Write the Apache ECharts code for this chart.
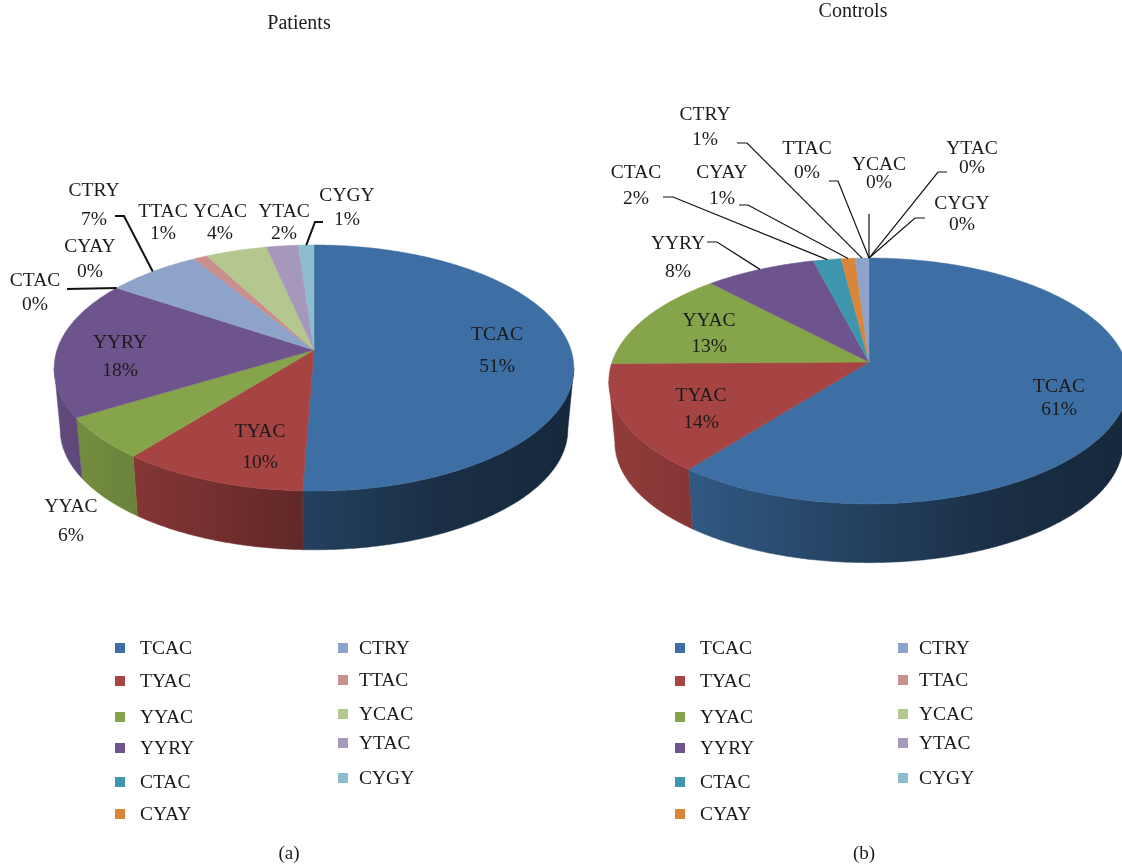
<!DOCTYPE html>
<html>
<head>
<meta charset="utf-8">
<style>
    html, body { margin: 0; padding: 0; background: #fff; }
    #main { width: 1122px; height: 865px; }
</style>
</head>
<body>
<div id="main"></div>
<script src="https://cdn.jsdelivr.net/npm/echarts@6/dist/echarts.min.js"></script>
<script>
// 数据
const categories = ['TCAC', 'TYAC', 'YYAC', 'YYRY', 'CTAC', 'CYAY', 'CTRY', 'TTAC', 'YCAC', 'YTAC', 'CYGY'];
const patientValues = [50.6, 10.1, 5.6, 18.1, 0, 0, 6.8, 1, 4.4, 2.3, 1.1];
const controlValues = [60.6, 14.2, 13.2, 8, 2, 1, 1, 0, 0, 0, 0];
const colors = ['#3d6fa4', '#a54442', '#86a44a', '#6e548d', '#3d96ae', '#d98639', '#8ea3c9', '#c98f8d', '#b3c78f', '#a698bb', '#8dbccd'];

// 饼图的透视参数
const patientPie = { cx: 314, cy: 350, rx: 257, ry: 120.4, k: 0.1464, shrink: 0.977, drop: 62 };
const controlPie = { cx: 869, cy: 362, rx: 257, ry: 120, k: 0.1544, shrink: 0.977, drop: 62 };

// 标签位置 [x, 名称y, 百分比y]
const patientLabelPos = [[497, 333, 365], [260, 430, 461], [71, 505, 534], [120, 341, 369], [35, 279, 303], [90, 245, 270],
    [94, 189, 218], [163, 210, 232], [220, 210, 232], [284, 210, 232], [347, 194, 218]];
const controlLabelPos = [[1059, 385, 408], [701, 394, 421], [709, 319, 345], [678, 242, 270], [636, 171, 197], [722, 171, 197],
    [705, 113, 138], [807, 147, 171], [879, 163, 181], [972, 147, 166], [962, 202, 223]];

// 引导线起点 { 类别序号: [[x, y], [x, y]] }，终点按扇区中线算
const patientLeaders = { 4: [[67, 289]], 6: [[115, 216], [124, 216]], 10: [[323, 222], [315, 222]] };
const controlLeaders = {
    3: [[707, 242], [717, 242]], 4: [[663, 197], [673, 197]], 5: [[739, 205], [748, 205]], 6: [[737, 143], [747, 143]],
    7: [[829, 181], [838, 181]], 8: [[869, 214]], 9: [[947, 172], [938, 172]], 10: [[925, 218], [915, 218]]
};

// 图例
const legendRows = [[643, 676, 712, 743, 777, 809], [643, 675, 709, 738, 773]];
const legendLeft = [[115, 140], [338, 359]];
const FONT = '"Liberation Serif", "Times New Roman", serif';
const TEXT_COLOR = '#1c1a1a';

// 把圆上的角度（顺时针，从正上方开始）投影到倾斜的椭圆
const project = (pie, angle) => {
    const x = Math.sin(angle);
    const y = -Math.cos(angle);
    const w = 1 - pie.k * y;
    return [pie.cx + pie.rx * x / w, pie.cy + pie.ry * y / w];
};

const lowerPoint = (pie, p) => [
    pie.cx + (p[0] - pie.cx) * pie.shrink,
    pie.cy + (p[1] - pie.cy) * pie.shrink + pie.drop
];

const arcPoints = (pie, a0, a1) => {
    const steps = Math.max(2, Math.ceil((a1 - a0) / 0.01));
    const pts = [];
    for (let i = 0; i <= steps; i++) {
        pts.push(project(pie, a0 + (a1 - a0) * i / steps));
    }
    return pts;
};

// 每个扇区的起止角度
const sliceAngles = (values) => {
    const total = values.reduce((a, b) => a + b, 0);
    let sum = 0;
    return values.map(v => {
        const a0 = sum / total * Math.PI * 2;
        sum += v;
        return [a0, sum / total * Math.PI * 2];
    });
};

const shade = (hex, f) => {
    const n = parseInt(hex.slice(1), 16);
    const r = Math.round((n >> 16 & 255) * f);
    const g = Math.round((n >> 8 & 255) * f);
    const b = Math.round((n & 255) * f);
    return `rgb(${r},${g},${b})`;
};

// 侧面从左到右变暗
const wallFill = (pie, color) => new echarts.graphic.LinearGradient(
    pie.cx - pie.rx, 0, pie.cx + pie.rx, 0,
    [[0, 0.88], [0.15, 0.8], [0.5, 0.57], [0.75, 0.42], [1, 0.36]].map(s => ({ offset: s[0], color: shade(color, s[1]) })),
    true
);

const makeSeries = (name, values, pie) => {
    const angles = sliceAngles(values);
    const data = values.map((v, i) => ({ name: categories[i], value: [i, v] }));
    // 只画朝前的那段侧面，两端在椭圆最宽处
    const frontStart = Math.PI / 2 + Math.asin(pie.k);
    const frontEnd = Math.PI * 3 / 2 - Math.asin(pie.k);
    const wall = {
        name: name + ' wall',
        type: 'custom',
        coordinateSystem: 'none',
        silent: true,
        z: 1,
        data: data,
        renderItem: (params) => {
            const i = params.dataIndex;
            const a0 = Math.max(angles[i][0], frontStart);
            const a1 = Math.min(angles[i][1], frontEnd);
            if (a1 <= a0) return null;
            const top = arcPoints(pie, a0, a1);
            const bottom = top.map(p => lowerPoint(pie, p)).reverse();
            const fill = wallFill(pie, colors[i]);
            return {
                type: 'polygon',
                shape: { points: top.concat(bottom) },
                style: { fill: fill, stroke: fill, lineWidth: 0.5 }
            };
        }
    };
    const face = {
        name: name,
        type: 'custom',
        coordinateSystem: 'none',
        silent: true,
        z: 2,
        data: data,
        renderItem: (params) => {
            const i = params.dataIndex;
            if (!values[i]) return null;
            const pts = [[pie.cx, pie.cy]].concat(arcPoints(pie, angles[i][0], angles[i][1]));
            return {
                type: 'polygon',
                shape: { points: pts },
                style: { fill: colors[i], stroke: colors[i], lineWidth: 0.5 }
            };
        }
    };
    return [wall, face];
};

const textEl = (text, x, y, size, align) => ({
    type: 'text',
    z: 10,
    silent: true,
    style: {
        text: text, x: x, y: y + 2,
        font: `${size}px ${FONT}`,
        fill: TEXT_COLOR,
        textAlign: align || 'center',
        textVerticalAlign: 'middle'
    }
});

const labelEls = (values, pie, pos, leaders, lineWidth) => {
    const angles = sliceAngles(values);
    const els = [];
    values.forEach((v, i) => {
        els.push(textEl(categories[i], pos[i][0], pos[i][1], 19.5));
        els.push(textEl(Math.round(v) + '%', pos[i][0], pos[i][2], 19.5));
        if (leaders[i]) {
            const end = project(pie, (angles[i][0] + angles[i][1]) / 2);
            els.push({
                type: 'polyline',
                z: 9,
                silent: true,
                shape: { points: leaders[i].concat([end]) },
                style: { stroke: '#111', lineWidth: lineWidth, fill: null }
            });
        }
    });
    return els;
};

const legendEls = (offset) => {
    const els = [];
    let idx = 0;
    legendRows.forEach((rows, col) => {
        rows.forEach(y => {
            els.push({
                type: 'rect',
                silent: true,
                shape: { x: legendLeft[col][0] + offset, y: y, width: 10, height: 10 },
                style: { fill: colors[idx] }
            });
            els.push(textEl(categories[idx], legendLeft[col][1] + offset, y + 4, 19.5, 'left'));
            idx++;
        });
    });
    return els;
};

const mychart = echarts.init(document.getElementById('main'));
mychart.setOption({
    animation: false,
    backgroundColor: '#fff',
    series: [
        ...makeSeries('Patients', patientValues, patientPie),
        ...makeSeries('Controls', controlValues, controlPie)
    ],
    graphic: [
        textEl('Patients', 299, 22, 20),
        textEl('Controls', 853, 10, 20),
        textEl('(a)', 289, 852, 19),
        textEl('(b)', 864, 852, 19),
        ...labelEls(patientValues, patientPie, patientLabelPos, patientLeaders, 2),
        ...labelEls(controlValues, controlPie, controlLabelPos, controlLeaders, 1.2),
        ...legendEls(0),
        ...legendEls(560)
    ]
});
</script>
</body>
</html>
